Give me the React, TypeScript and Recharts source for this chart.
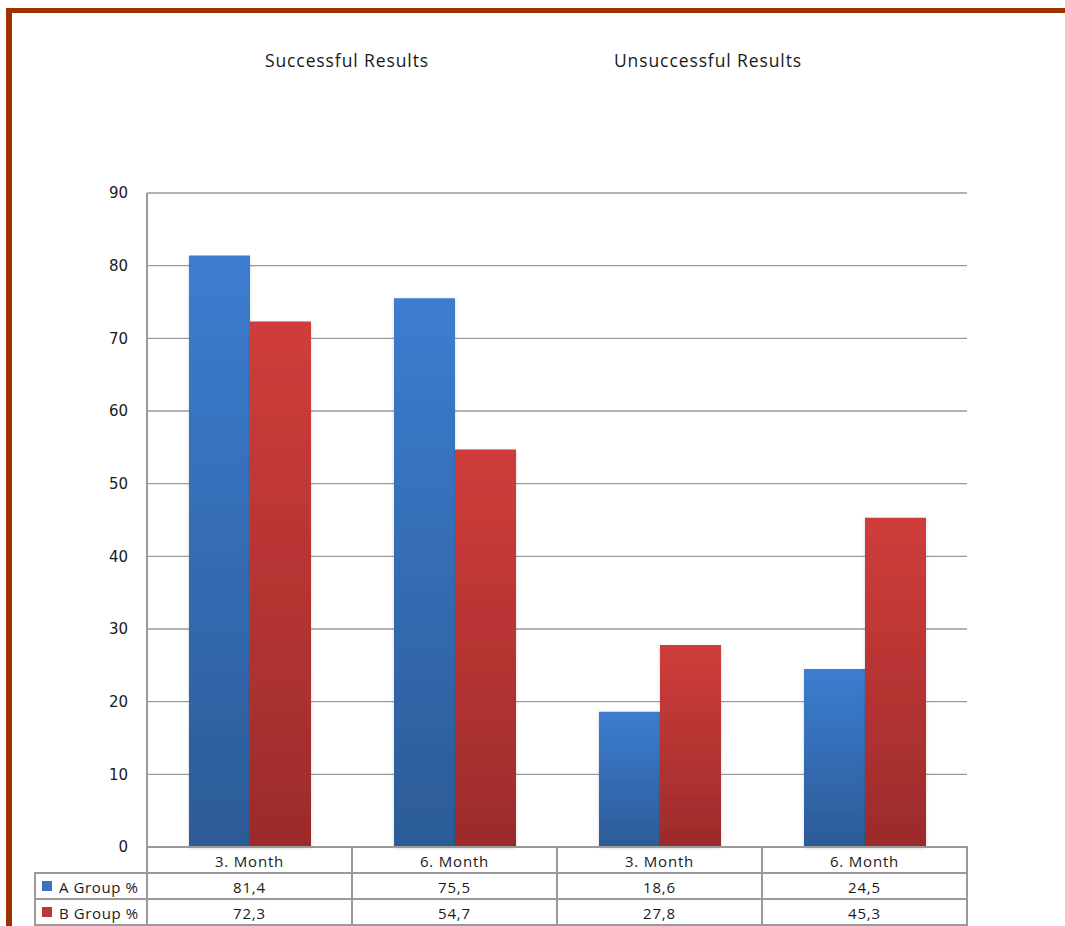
import React from 'react';
import { BarChart, Bar, XAxis, YAxis, CartesianGrid, Customized } from 'recharts';

const categories = ['3. Month', '6. Month', '3. Month', '6. Month'];
const groupA = [81.4, 75.5, 18.6, 24.5];
const groupB = [72.3, 54.7, 27.8, 45.3];
const groupALabel = 'A Group %';
const groupBLabel = 'B Group %';
const yTicks = [0, 10, 20, 30, 40, 50, 60, 70, 80, 90];
const groupTitles = ['Successful Results', 'Unsuccessful Results'];

const data = categories.map((c, i) => ({ cat: c, idx: i, a: groupA[i], b: groupB[i] }));

const W = 1065;
const H = 926;
const PLOT_LEFT = 147;
const PLOT_RIGHT = 967;
const PLOT_TOP = 193;
const PLOT_BOTTOM = 847;
const Y_AXIS_W = 60;
const X_AXIS_H = 78;
const BAND = (PLOT_RIGHT - PLOT_LEFT) / categories.length;
const ROW_H = 26;
const LINE = '#9a9a9a';
const FONT = "'Open Sans', 'Liberation Sans', sans-serif";
const TEXT = '#1a1a1a';

const fmt = (v: number) => v.toFixed(1).replace('.', ',');

const TableTick = (props: any) => {
  const { x, payload } = props;
  const i = payload.index;
  const left = x - BAND / 2;
  const top = PLOT_BOTTOM;
  const rows = [payload.value, fmt(groupA[i]), fmt(groupB[i])];
  return (
    <g>
      {rows.map((t, r) => (
        <g key={r}>
          <rect x={left} y={top + r * ROW_H} width={BAND} height={ROW_H} fill="none" stroke={LINE} strokeWidth={2} />
          <text x={x} y={top + r * ROW_H + ROW_H / 2 + 1} textAnchor="middle" dominantBaseline="central" fontFamily={FONT} fontSize={15} letterSpacing={0.8} fill={TEXT}>
            {t}
          </text>
        </g>
      ))}
      {i === 0 && (
        <g>
          {[
            { label: groupALabel, fill: '#3a72bf' },
            { label: groupBLabel, fill: '#c03535' },
          ].map((s, r) => (
            <g key={s.label}>
              <rect x={35} y={top + (r + 1) * ROW_H} width={left - 35} height={ROW_H} fill="none" stroke={LINE} strokeWidth={2} />
              <rect x={42} y={top + (r + 1) * ROW_H + 8} width={10} height={10} fill={s.fill} />
              <text x={59} y={top + (r + 1) * ROW_H + ROW_H / 2 + 1} dominantBaseline="central" fontFamily={FONT} fontSize={15} letterSpacing={0.6} fill={TEXT}>
                {s.label}
              </text>
            </g>
          ))}
        </g>
      )}
    </g>
  );
};

const Titles = () => (
  <g>
    <text x={347} y={60} textAnchor="middle" dominantBaseline="central" fontFamily={FONT} fontSize={17.5} letterSpacing={0.9} fill={TEXT}>
      {groupTitles[0]}
    </text>
    <text x={708} y={60} textAnchor="middle" dominantBaseline="central" fontFamily={FONT} fontSize={17.5} letterSpacing={0.9} fill={TEXT}>
      {groupTitles[1]}
    </text>
  </g>
);

export default function App() {
  return (
    <div style={{ position: 'absolute', left: 0, top: 0, width: W, height: H, background: '#fff', overflow: 'hidden' }}>
      <div style={{ position: 'absolute', left: 6, top: 8, width: W - 6, height: 5, background: '#9a3300' }} />
      <div style={{ position: 'absolute', left: 6, top: 8, width: 6, height: H - 8, background: '#9a3300' }} />
      <div style={{ position: 'absolute', left: 0, top: 0 }}>
        <BarChart
          width={W}
          height={H}
          data={data}
          margin={{ left: PLOT_LEFT - Y_AXIS_W, right: W - PLOT_RIGHT, top: PLOT_TOP, bottom: H - PLOT_BOTTOM - X_AXIS_H }}
          barCategoryGap={42}
          barGap={0}
        >
          <defs>
            <linearGradient id="gA" x1="0" y1="0" x2="0" y2="1">
              <stop offset="0%" stopColor="#3c7dd0" />
              <stop offset="100%" stopColor="#2c5b97" />
            </linearGradient>
            <linearGradient id="gB" x1="0" y1="0" x2="0" y2="1">
              <stop offset="0%" stopColor="#cf3d3b" />
              <stop offset="100%" stopColor="#9c2b2b" />
            </linearGradient>
            <filter id="sh" x="-10%" y="-5%" width="120%" height="110%">
              <feDropShadow dx="0" dy="1" stdDeviation="1.5" floodColor="#000" floodOpacity="0.18" />
            </filter>
          </defs>
          <CartesianGrid vertical={false} stroke={LINE} strokeWidth={1.3} />
          <YAxis
            width={Y_AXIS_W}
            domain={[0, 90]}
            ticks={yTicks}
            interval={0}
            axisLine={{ stroke: LINE, strokeWidth: 2 }}
            tickLine={false}
            tickMargin={13}
            tick={{ fontFamily: "'DejaVu Sans', sans-serif", fontSize: 15, fill: TEXT }}
          />
          <XAxis
            dataKey="cat"
            height={X_AXIS_H}
            axisLine={false}
            tickLine={false}
            interval={0}
            tick={<TableTick />}
          />
          <Bar dataKey="a" fill="url(#gA)" isAnimationActive={false} filter="url(#sh)" />
          <Bar dataKey="b" fill="url(#gB)" isAnimationActive={false} filter="url(#sh)" />
          <Customized component={<Titles />} />
        </BarChart>
      </div>
    </div>
  );
}
